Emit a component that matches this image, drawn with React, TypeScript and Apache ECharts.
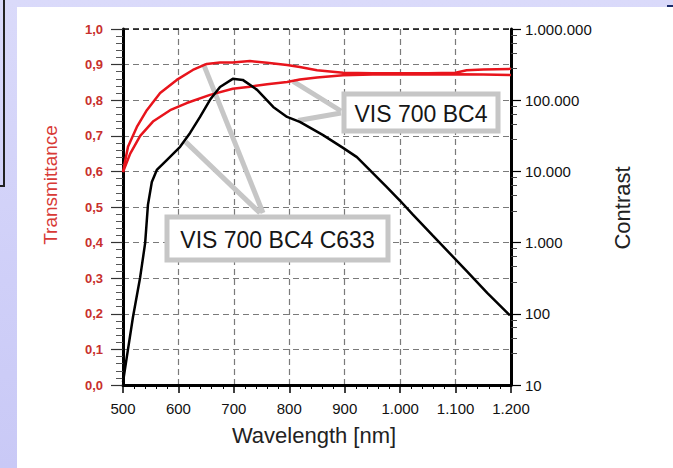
import React, { useEffect, useRef } from "react";
import * as echarts from "echarts";

// ---- Data ----
const c633Wl = [500, 509, 525, 543, 567, 597, 626, 651, 675, 698, 729, 760, 796, 819, 850, 897, 950, 1000, 1050, 1100, 1120, 1150, 1200];
const c633T = [0.598, 0.669, 0.725, 0.772, 0.82, 0.857, 0.885, 0.902, 0.906, 0.906, 0.91, 0.905, 0.899, 0.893, 0.884, 0.877, 0.876, 0.876, 0.876, 0.877, 0.884, 0.886, 0.888];

const bc4Wl = [500, 513, 531, 554, 585, 615, 657, 698, 729, 760, 796, 819, 850, 897, 950, 1000, 1050, 1100, 1150, 1200];
const bc4T = [0.598, 0.65, 0.7, 0.74, 0.772, 0.792, 0.815, 0.832, 0.838, 0.845, 0.851, 0.858, 0.864, 0.87, 0.872, 0.873, 0.872, 0.873, 0.872, 0.871];

const contrastWl = [500, 507, 518, 531, 540, 545, 552, 561, 579, 603, 621, 639, 657, 675, 698, 716, 742, 771, 796, 819, 861, 897, 922, 940, 976, 1000, 1023, 1059, 1090, 1121, 1157, 1198];
const contrastVal = [11, 25, 90, 327, 990, 3390, 7080, 10470, 14450, 22130, 34670, 58210, 101160, 153100, 199500, 192800, 139600, 80350, 58210, 49550, 32360, 21380, 15850, 11480, 6030, 3870, 2470, 1250, 700, 390, 197, 95];

const labelBoxes = ["VIS 700 BC4", "VIS 700 BC4 C633"];

const zip = (a: number[], b: number[]) => a.map((v, i) => [v, b[i]]);
const dots = (v: number) => String(Math.round(v)).replace(/\B(?=(\d{3})+(?!\d))/g, ".");

const FONT = "'Liberation Sans', Arial, sans-serif";

export default function App() {
  const ref = useRef<HTMLDivElement>(null);
  useEffect(() => {
    if (!ref.current) return;
    const chart = echarts.init(ref.current, null, { renderer: "svg" });
    const dashed = { color: "#7a7a7a", type: [6, 4] as any, width: 1.2 };
    chart.setOption({
      animation: false,
      backgroundColor: "#ffffff",
      grid: { left: 106, top: 22, right: 162, bottom: 83 },
      xAxis: {
        type: "value",
        min: 500,
        max: 1200,
        interval: 100,
        axisLine: { show: true, onZero: false, lineStyle: { color: "#000", width: 3 } },
        axisTick: { show: true, length: 8, lineStyle: { color: "#000", width: 1.5 } },
        minorTick: { show: true, splitNumber: 5, length: 4, lineStyle: { color: "#000", width: 1 } },
        axisLabel: { color: "#111", fontSize: 15, fontFamily: FONT, margin: 16, formatter: (v: number) => dots(v) },
        splitLine: { show: true, lineStyle: dashed },
      },
      yAxis: [
        {
          type: "value",
          min: 0,
          max: 1,
          interval: 0.1,
          position: "left",
          axisLine: { show: true, onZero: false, lineStyle: { color: "#000", width: 3 } },
          axisTick: { show: true, length: 12, lineStyle: { color: "#333", width: 1.2 } },
          minorTick: { show: true, splitNumber: 5, length: 7, lineStyle: { color: "#555", width: 1 } },
          axisLabel: {
            color: "#c8302c",
            fontSize: 13,
            fontWeight: "bold",
            fontFamily: FONT,
            margin: 20,
            formatter: (v: number) => (Math.round(v * 10) / 10).toFixed(1).replace(".", ","),
          },
          splitLine: { show: true, lineStyle: dashed },
        },
        {
          type: "log",
          logBase: 10,
          min: 10,
          max: 1000000,
          splitNumber: 5,
          position: "right",
          axisLine: { show: true, onZero: false, lineStyle: { color: "#000", width: 3 } },
          axisTick: { show: true, length: 10, lineStyle: { color: "#000", width: 1.2 } },
          minorTick: { show: true, splitNumber: 5, length: 6, lineStyle: { color: "#444", width: 1 } },
          axisLabel: { color: "#111", fontSize: 15, fontFamily: FONT, margin: 14, formatter: (v: number) => dots(v) },
          splitLine: { show: false },
        },
      ],
      series: [
        {
          name: "VIS 700 BC4 C633",
          type: "line",
          yAxisIndex: 0,
          data: zip(c633Wl, c633T),
          showSymbol: false,
          symbol: "none",
          lineStyle: { color: "#e8141c", width: 2.5 },
          z: 3,
          markLine: {
            silent: true,
            symbol: "none",
            label: { show: false },
            lineStyle: { color: "#111", type: [6, 4] as any, width: 1.5 },
            data: [{ yAxis: 1 }],
            z: 1,
          },
        },
        {
          name: "VIS 700 BC4",
          type: "line",
          yAxisIndex: 0,
          data: zip(bc4Wl, bc4T),
          showSymbol: false,
          symbol: "none",
          lineStyle: { color: "#e8141c", width: 2.5 },
          z: 3,
        },
        {
          name: "Contrast",
          type: "line",
          yAxisIndex: 1,
          data: zip(contrastWl, contrastVal),
          showSymbol: false,
          symbol: "none",
          lineStyle: { color: "#000", width: 2.5 },
          z: 4,
        },
      ],
    });

    const p = (x: number, y: number, axis = 0) =>
      chart.convertToPixel({ xAxisIndex: 0, yAxisIndex: axis }, [x, y]) as number[];
    const t1 = p(645, 0.902);
    const t2 = p(613, 26000, 1);
    const t3 = p(807, 0.853);
    const t4 = p(816, 52000, 1);
    const gray = "#c6c6c6";
    const pointer = (a: number[], b: number[]) => ({
      type: "line",
      shape: { x1: a[0], y1: a[1], x2: b[0], y2: b[1] },
      style: { stroke: gray, lineWidth: 5 },
      z: 1,
    });
    const box = (x: number, y: number, w: number, h: number, text: string) => [
      { type: "rect", shape: { x, y, width: w, height: h }, style: { fill: "#fff", stroke: gray, lineWidth: 5 }, z: 5 },
      {
        type: "text",
        x: x + w / 2,
        y: y + h / 2 + 1,
        style: { text, fill: "#161616", font: `23px ${FONT}`, align: "center", verticalAlign: "middle" },
        z: 6,
      },
    ];
    chart.setOption({
      graphic: [
        pointer([246, 206], t1),
        pointer([243, 206], t2),
        pointer([324, 104], t3),
        pointer([324, 106], t4),
        ...box(327, 87, 154, 37, labelBoxes[0]),
        ...box(150, 210, 221, 43, labelBoxes[1]),
        {
          type: "text",
          x: 33,
          y: 178,
          rotation: Math.PI / 2,
          style: { text: "Transmittance", fill: "#d83a36", font: `19px ${FONT}`, align: "center", verticalAlign: "middle" },
        },
        {
          type: "text",
          x: 605,
          y: 201,
          rotation: Math.PI / 2,
          style: { text: "Contrast", fill: "#222", font: `22px ${FONT}`, align: "center", verticalAlign: "middle" },
        },
        {
          type: "text",
          x: 297,
          y: 428,
          style: { text: "Wavelength [nm]", fill: "#222", font: `22px ${FONT}`, align: "center", verticalAlign: "middle" },
        },
      ],
    });
    return () => chart.dispose();
  }, []);

  return (
    <div
      style={{
        position: "fixed",
        left: 0,
        top: 0,
        width: 673,
        height: 468,
        overflow: "hidden",
        background: "linear-gradient(180deg, #dadafa 0%, #cfcff8 60%, #c9c9f6 100%)",
      }}
    >
      <div
        style={{
          position: "absolute",
          left: -10,
          top: -10,
          width: 11,
          height: 193,
          border: "2px solid #222",
        }}
      />
      <div style={{ position: "absolute", left: 667, top: 5, width: 6, height: 3, background: "#1a2a6a" }} />
      <div ref={ref} style={{ position: "absolute", left: 17, top: 7, width: 656, height: 461, background: "#fff" }} />
    </div>
  );
}
